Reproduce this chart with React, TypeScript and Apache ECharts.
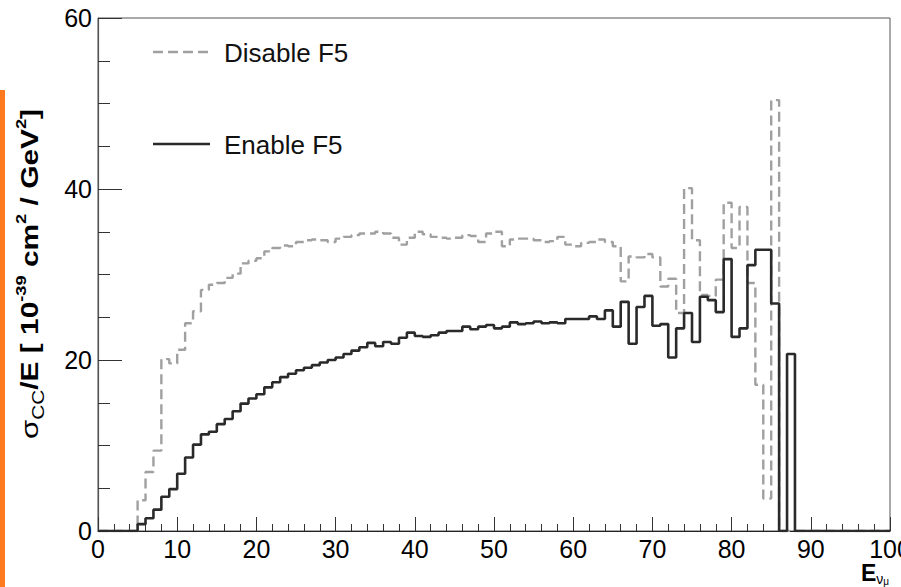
import React, { useEffect, useRef } from "react";
import * as echarts from "echarts";

// 1 GeV bins from 0 to 100
const binWidth = 1;
const xTicks = [0, 10, 20, 30, 40, 50, 60, 70, 80, 90, 100];
const yTicks = [0, 20, 40, 60];

const enableF5 = [
  0, 0, 0, 0, 0,
  0.8, 1.5, 2.5, 4.0, 4.9,
  6.7, 8.6, 10.1, 11.3, 11.6,
  12.5, 13.1, 14.0, 14.9, 15.5,
  16.0, 16.8, 17.4, 18.0, 18.4,
  18.8, 19.1, 19.4, 19.7, 20.0,
  20.3, 20.7, 21.1, 21.5, 22.0,
  21.6, 22.1, 21.9, 22.6, 23.2,
  22.8, 22.7, 22.9, 23.2, 23.4,
  23.4, 23.9, 23.6, 23.9, 24.1,
  23.7, 23.9, 24.4, 24.2, 24.3,
  24.5, 24.3, 24.4, 24.3, 24.8,
  24.8, 24.8, 25.1, 24.8, 25.8,
  23.9, 26.8, 21.9, 26.2, 27.5,
  24.0, 24.2, 20.3, 23.7, 25.5,
  22.1, 27.4, 27.0, 25.6, 31.8,
  22.7, 23.7, 31.1, 32.9, 32.9,
  26.6, 0, 20.7, 0, 0,
  0, 0, 0, 0, 0, 0, 0, 0, 0, 0,
];

const disableF5 = [
  0, 0, 0, 0, 0,
  3.6, 6.9, 9.4, 20.1, 19.6,
  21.2, 24.3, 25.7, 28.2, 28.8,
  29.0, 29.6, 30.1, 31.3, 31.6,
  31.9, 32.7, 33.1, 33.4, 33.3,
  33.8, 34.0, 34.1, 34.0, 33.8,
  34.2, 34.4, 34.6, 34.8, 34.8,
  35.0, 34.8, 34.3, 33.5, 34.3,
  35.0, 34.7, 34.4, 34.3, 34.2,
  34.3, 34.6, 34.5, 33.8, 34.8,
  35.0, 33.3, 34.1, 34.2, 34.2,
  34.0, 33.8, 33.9, 34.4, 33.5,
  33.3, 33.7, 33.8, 34.1, 33.8,
  33.3, 29.2, 32.1, 32.0, 32.4,
  32.0, 28.6, 29.5, 25.5, 40.1,
  34.0, 27.6, 27.5, 29.4, 38.4,
  33.1, 37.9, 29.0, 17.1, 3.8,
  50.4, 0, 0, 0, 0,
  0, 0, 0, 0, 0, 0, 0, 0, 0, 0,
];

const legendLabels = ["Disable F5", "Enable F5"];

const toSteps = (vals: number[]) => {
  const pts: number[][] = vals.map((v, i) => [i * binWidth, v]);
  pts.push([vals.length * binWidth, vals[vals.length - 1]]);
  return pts;
};

const FONT = "'Liberation Sans', Arial, Helvetica, sans-serif";

export default function App() {
  const ref = useRef<HTMLDivElement>(null);
  useEffect(() => {
    if (!ref.current) return;
    const chart = echarts.init(ref.current, undefined, { renderer: "svg" });
    chart.setOption({
      animation: false,
      backgroundColor: "#ffffff",
      textStyle: { fontFamily: FONT },
      grid: {
        left: 98,
        right: 11,
        top: 18,
        bottom: 56,
        containLabel: false,
        outerBoundsMode: "none",
        show: true,
        borderColor: "#555",
        borderWidth: 1,
        backgroundColor: "transparent",
      },
      xAxis: {
        type: "value",
        min: xTicks[0],
        max: xTicks[xTicks.length - 1],
        interval: 10,
        axisLine: { show: true, lineStyle: { color: "#222", width: 1.2 } },
        axisTick: { show: true, inside: true, length: 14, lineStyle: { color: "#333", width: 1 } },
        minorTick: { show: true, splitNumber: 5, length: 7, lineStyle: { color: "#333", width: 1 } },
        splitLine: { show: false },
        axisLabel: { color: "#000", fontSize: 25, fontFamily: FONT, margin: 5 },
      },
      yAxis: {
        type: "value",
        min: yTicks[0],
        max: yTicks[yTicks.length - 1],
        interval: 20,
        axisLine: { show: true, lineStyle: { color: "#555", width: 1.2 } },
        axisTick: { show: true, inside: true, length: 24, lineStyle: { color: "#333", width: 1 } },
        minorTick: { show: true, splitNumber: 4, length: 12, lineStyle: { color: "#333", width: 1 } },
        splitLine: { show: false },
        axisLabel: { color: "#000", fontSize: 25, fontFamily: FONT, margin: 6 },
      },
      series: [
        {
          name: legendLabels[0],
          type: "line",
          step: "end",
          data: toSteps(disableF5),
          showSymbol: false,
          symbol: "none",
          lineStyle: { color: "#a0a0a0", width: 2.4, type: [10, 5] },
          z: 2,
        },
        {
          name: legendLabels[1],
          type: "line",
          step: "end",
          data: toSteps(enableF5),
          showSymbol: false,
          symbol: "none",
          lineStyle: { color: "#2a2a2a", width: 2.6 },
          z: 3,
        },
      ],
      graphic: [
        { type: "rect", shape: { x: 0, y: 90, width: 5, height: 497 }, style: { fill: "#ff7a1f" } },
        {
          type: "line",
          shape: { x1: 153, y1: 52, x2: 210, y2: 52 },
          style: { stroke: "#a0a0a0", lineWidth: 2.4, lineDash: [10, 5] },
        },
        {
          type: "text",
          x: 224,
          y: 53,
          style: { text: legendLabels[0], fill: "#111", fontSize: 26, fontFamily: FONT, textVerticalAlign: "middle" },
        },
        {
          type: "line",
          shape: { x1: 153, y1: 144, x2: 210, y2: 144 },
          style: { stroke: "#2a2a2a", lineWidth: 2.6 },
        },
        {
          type: "text",
          x: 224,
          y: 145,
          style: { text: legendLabels[1], fill: "#111", fontSize: 26, fontFamily: FONT, textVerticalAlign: "middle" },
        },
        {
          type: "text",
          x: 30,
          y: 274,
          rotation: Math.PI / 2,
          scaleX: 1.3,
          scaleY: 1,
          style: {
            text: "{m|σ}{sub|CC}{b|/E [ 10}{sup|-39}{b| cm}{sup|2}{b| / GeV}{sup|2}{b|]}",
            textAlign: "center",
            textVerticalAlign: "middle",
            fill: "#000",
            rich: {
              m: { fontSize: 24, fontFamily: FONT, fill: "#000", lineHeight: 32, verticalAlign: "middle" },
              b: { fontSize: 23, fontWeight: "bold", fontFamily: FONT, fill: "#000", lineHeight: 32, verticalAlign: "middle" },
              sup: { fontSize: 14, fontWeight: "bold", fontFamily: FONT, fill: "#000", verticalAlign: "top", lineHeight: 15 },
              sub: { fontSize: 16, fontFamily: FONT, fill: "#000", verticalAlign: "bottom", lineHeight: 15 },
            },
          },
        },
        {
          type: "text",
          x: 861,
          y: 573,
          style: {
            text: "{b|E}{s|ν}{s2|μ}",
            textVerticalAlign: "middle",
            rich: {
              b: { fontSize: 23, fontWeight: "bold", fontFamily: FONT, fill: "#000", lineHeight: 26, verticalAlign: "middle" },
              s: { fontSize: 14, fontFamily: FONT, fill: "#000", verticalAlign: "bottom", lineHeight: 12 },
              s2: { fontSize: 10, fontFamily: FONT, fill: "#000", verticalAlign: "bottom", lineHeight: 8 },
            },
          },
        },
      ],
    });
    return () => chart.dispose();
  }, []);
  return (
    <div
      ref={ref}
      style={{ position: "fixed", left: 0, top: 0, width: 901, height: 587, background: "#fff" }}
    />
  );
}
